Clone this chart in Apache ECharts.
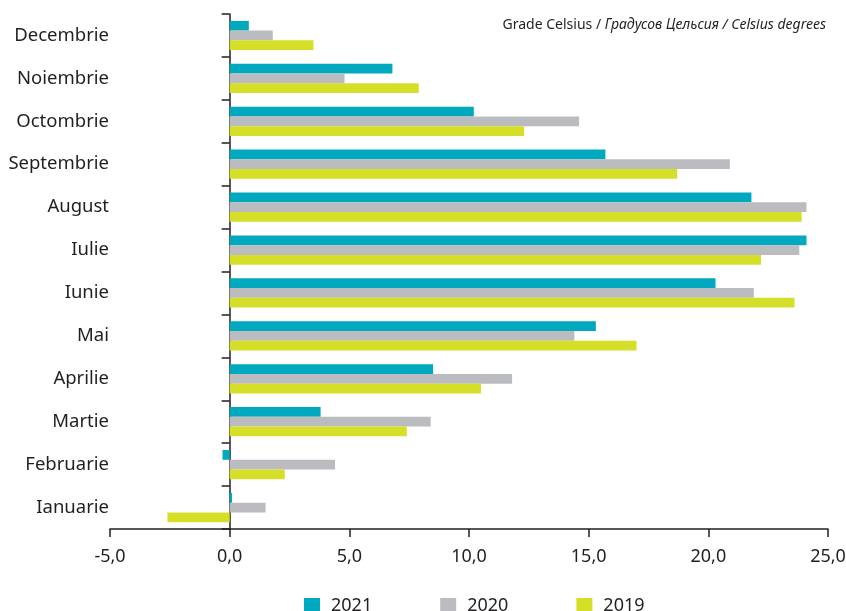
<!DOCTYPE html>
<html>
<head>
<meta charset="utf-8">
<script src="https://cdn.jsdelivr.net/npm/echarts@6/dist/echarts.min.js"></script>
<style>html,body{margin:0;padding:0;background:#fff}#c{width:846px;height:611px}</style>
</head>
<body>
<div id="c"></div>
<script>
const months = ['Ianuarie','Februarie','Martie','Aprilie','Mai','Iunie','Iulie','August','Septembrie','Octombrie','Noiembrie','Decembrie'];
const v2021 = [0.1, -0.3, 3.8, 8.5, 15.3, 20.3, 24.1, 21.8, 15.7, 10.2, 6.8, 0.8];
const v2020 = [1.5, 4.4, 8.4, 11.8, 14.4, 21.9, 23.8, 24.1, 20.9, 14.6, 4.8, 1.8];
const v2019 = [-2.6, 2.3, 7.4, 10.5, 17.0, 23.6, 22.2, 23.9, 18.7, 12.3, 7.9, 3.5];
const xTicks = {min: -5, max: 25, step: 5};
const unitText = ['Grade Celsius / ', 'Градусов Цельсия / Celsius degrees'];

const FONT = '"Noto Sans", sans-serif';
const TXT = '#231F20';
const chart = echarts.init(document.getElementById('c'), null, {renderer: 'canvas'});
chart.setOption({
  animation: false,
  textStyle: {fontFamily: FONT, color: TXT},
  title: {
    text: '{n|' + unitText[0] + '}{i|' + unitText[1] + '}',
    right: 15, top: 13,
    textStyle: {fontWeight: 'normal', rich: {
      n: {fontFamily: FONT, fontSize: 14, color: TXT, fontWeight: 'normal'},
      i: {fontFamily: FONT, fontSize: 14, color: TXT, fontStyle: 'italic', fontWeight: 'normal'}
    }}
  },
  grid: {left: 110, right: 18, top: 14, bottom: 82, containLabel: false, outerBoundsMode: 'none'},
  legend: {
    data: ['2021', '2020', '2019'],
    left: 299, top: 592,
    icon: 'rect', itemWidth: 16, itemHeight: 16, itemGap: 68,
    textStyle: {fontFamily: FONT, fontSize: 18, color: TXT, padding: [0, 0, 0, 6]}
  },
  xAxis: {
    type: 'value', min: xTicks.min, max: xTicks.max, interval: xTicks.step,
    splitLine: {show: false},
    axisLine: {show: true, lineStyle: {color: TXT, width: 1.5}},
    axisTick: {show: true, length: 8, lineStyle: {color: TXT, width: 1.5}},
    axisLabel: {fontFamily: FONT, fontSize: 18, color: TXT, margin: 19,
      formatter: v => v.toFixed(1).replace('.', ',')}
  },
  yAxis: {
    type: 'category', data: months,
    axisLine: {show: true, onZero: true, lineStyle: {color: TXT, width: 1.5}},
    axisTick: {show: true, length: 8, lineStyle: {color: TXT, width: 1.5}},
    axisLabel: {fontFamily: FONT, fontSize: 18.5, color: TXT, margin: 1}
  },
  series: [
    {name: '2021', type: 'bar', data: v2021, itemStyle: {color: '#00A9BD'}, barGap: 0, barCategoryGap: '32%'},
    {name: '2020', type: 'bar', data: v2020, itemStyle: {color: '#BBBCC0'}, barGap: 0, barCategoryGap: '32%'},
    {name: '2019', type: 'bar', data: v2019, itemStyle: {color: '#D5DF27'}, barGap: 0, barCategoryGap: '32%'}
  ]
});
</script>
</body>
</html>
